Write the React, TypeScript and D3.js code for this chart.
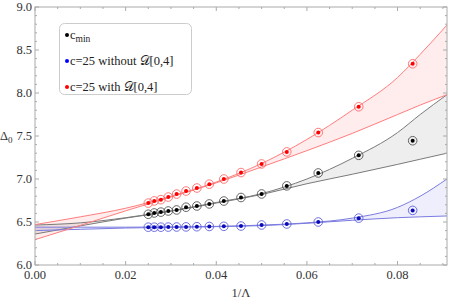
import React, { useEffect, useRef } from 'react';
import * as d3 from 'd3';

// cutoff values, points are plotted at 1/Λ
const lambdas = [40, 38, 36, 34, 32, 30, 28, 26, 24, 22, 20, 18, 16, 14, 12];
const cMin = [6.59, 6.605, 6.615, 6.628, 6.64, 6.672, 6.686, 6.71, 6.744, 6.785, 6.826, 6.92, 7.07, 7.275, 7.445];
const withoutD = [6.44, 6.44, 6.44, 6.441, 6.442, 6.443, 6.445, 6.448, 6.45, 6.453, 6.465, 6.477, 6.5, 6.545, 6.635];
const withD = [6.72, 6.745, 6.76, 6.79, 6.825, 6.86, 6.895, 6.94, 7.0, 7.075, 7.175, 7.315, 7.54, 7.84, 8.34];

// extrapolation bands
const fitX = [0, 0.01, 0.02, 0.03, 0.04, 0.05, 0.06, 0.07, 0.08, 0.085, 0.0909];
const redUpper = [6.47, 6.56, 6.66, 6.8, 6.965, 7.18, 7.46, 7.8, 8.18, 8.45, 8.79];
const redLower = [6.295, 6.46, 6.63, 6.79, 6.955, 7.14, 7.33, 7.53, 7.75, 7.86, 7.98];
const blackUpper = [6.465, 6.49, 6.55, 6.63, 6.727, 6.83, 7.0, 7.24, 7.54, 7.75, 7.98];
const blackLower = [6.36, 6.455, 6.545, 6.625, 6.72, 6.82, 6.945, 7.055, 7.17, 7.23, 7.3];
const blueUpper = [6.44, 6.44, 6.44, 6.442, 6.449, 6.464, 6.49, 6.545, 6.67, 6.8, 7.0];
const blueLower = [6.4, 6.415, 6.43, 6.438, 6.446, 6.458, 6.485, 6.52, 6.55, 6.56, 6.57];

const xTicks = [0, 0.02, 0.04, 0.06, 0.08];
const yTicks = [6.0, 6.5, 7.0, 7.5, 8.0, 8.5, 9.0];

const series = [
  { name: 'black', values: cMin, upper: blackUpper, lower: blackLower, line: '#7a7a7a', band: 'rgba(0,0,0,0.065)', dot: '#000', ring: '#555' },
  { name: 'blue', values: withoutD, upper: blueUpper, lower: blueLower, line: '#7b7be0', band: 'rgba(40,40,220,0.08)', dot: '#0a0ab8', ring: '#6060dd' },
  { name: 'red', values: withD, upper: redUpper, lower: redLower, line: '#ff7d7d', band: 'rgba(255,0,0,0.07)', dot: '#ff0000', ring: '#ff6a6a' },
];

const App = () => {
  const svgRef = useRef(null);

  useEffect(() => {
    const width = 450, height = 301;
    const margin = { top: 7, right: 3, bottom: 36, left: 35 };
    const font = "'Liberation Serif', 'Times New Roman', serif";

    const svg = d3.select(svgRef.current);
    svg.selectAll('*').remove();
    svg.attr('width', width).attr('height', height);

    const x = d3.scaleLinear().domain([0, 1 / 11]).range([margin.left, width - margin.right]);
    const y = d3.scaleLinear().domain([6, 9]).range([height - margin.bottom, margin.top]);

    svg.append('clipPath').attr('id', 'plot-clip')
      .append('rect')
      .attr('x', x(0)).attr('y', y(9))
      .attr('width', x(1 / 11) - x(0)).attr('height', y(6) - y(9));

    const plot = svg.append('g').attr('clip-path', 'url(#plot-clip)');

    series.forEach(s => {
      const rows = fitX.map((fx, i) => ({ fx, lo: s.lower[i], hi: s.upper[i] }));
      const area = d3.area()
        .x(d => x(d.fx)).y0(d => y(d.lo)).y1(d => y(d.hi))
        .curve(d3.curveMonotoneX);
      plot.append('path').datum(rows).attr('d', area).attr('fill', s.band);
    });

    series.forEach(s => {
      const rows = fitX.map((fx, i) => ({ fx, lo: s.lower[i], hi: s.upper[i] }));
      ['lo', 'hi'].forEach(k => {
        const line = d3.line().x(d => x(d.fx)).y(d => y(d[k])).curve(d3.curveMonotoneX);
        plot.append('path').datum(rows).attr('d', line)
          .attr('fill', 'none').attr('stroke', s.line).attr('stroke-width', 1);
      });
    });

    series.forEach(s => {
      const pts = lambdas.map((l, i) => ({ px: 1 / l, v: s.values[i] }));
      const g = plot.append('g');
      g.selectAll('circle.ring').data(pts).join('circle')
        .attr('class', 'ring')
        .attr('cx', d => x(d.px)).attr('cy', d => y(d.v)).attr('r', 4.3)
        .attr('fill', 'none').attr('stroke', s.ring).attr('stroke-width', 0.9);
      g.selectAll('circle.dot').data(pts).join('circle')
        .attr('class', 'dot')
        .attr('cx', d => x(d.px)).attr('cy', d => y(d.v)).attr('r', 2)
        .attr('fill', s.dot);
    });

    // frame
    const frame = svg.append('g');
    frame.append('rect')
      .attr('x', x(0)).attr('y', y(9))
      .attr('width', x(1 / 11) - x(0)).attr('height', y(6) - y(9))
      .attr('fill', 'none').attr('stroke', '#aaa').attr('stroke-width', 1);

    const xMinor = d3.range(0, 0.0909, 0.005);
    const yMinor = d3.range(6, 9.001, 0.1);
    const tickColor = '#aaa';

    xMinor.forEach(v => {
      const major = xTicks.some(t => Math.abs(t - v) < 1e-6);
      const len = major ? 4 : 2;
      frame.append('line').attr('x1', x(v)).attr('x2', x(v)).attr('y1', y(6)).attr('y2', y(6) - len).attr('stroke', tickColor);
      frame.append('line').attr('x1', x(v)).attr('x2', x(v)).attr('y1', y(9)).attr('y2', y(9) + len).attr('stroke', tickColor);
    });
    yMinor.forEach(v => {
      const major = yTicks.some(t => Math.abs(t - v) < 1e-6);
      const len = major ? 4 : 2;
      frame.append('line').attr('y1', y(v)).attr('y2', y(v)).attr('x1', x(0)).attr('x2', x(0) + len).attr('stroke', tickColor);
      frame.append('line').attr('y1', y(v)).attr('y2', y(v)).attr('x1', x(1 / 11)).attr('x2', x(1 / 11) - len).attr('stroke', tickColor);
    });

    frame.selectAll('text.xt').data(xTicks).join('text')
      .attr('class', 'xt')
      .attr('x', d => x(d)).attr('y', y(6) + 14)
      .attr('text-anchor', 'middle')
      .attr('font-family', font).attr('font-size', 12.5).attr('fill', '#333')
      .text(d => d3.format('.2f')(d));

    frame.selectAll('text.yt').data(yTicks).join('text')
      .attr('class', 'yt')
      .attr('x', x(0) - 3).attr('y', d => y(d) + 4)
      .attr('text-anchor', 'end')
      .attr('font-family', font).attr('font-size', 12.5).attr('fill', '#333')
      .text(d => d3.format('.1f')(d));

    svg.append('text')
      .attr('x', (x(0) + x(1 / 11)) / 2).attr('y', 297)
      .attr('text-anchor', 'middle')
      .attr('font-family', font).attr('font-size', 12.5).attr('fill', '#333')
      .text('1/Λ');

    const yl = svg.append('text')
      .attr('x', 0).attr('y', y(7.5) + 4)
      .attr('font-family', font).attr('font-size', 12.5).attr('fill', '#333');
    yl.append('tspan').text('Δ');
    yl.append('tspan').attr('font-size', 9).attr('dy', 3).text('0');

    // legend
    const legend = svg.append('g');
    legend.append('rect')
      .attr('x', 59.5).attr('y', 23.5).attr('width', 132).attr('height', 71)
      .attr('rx', 5).attr('fill', 'white').attr('stroke', '#ccc');

    const entries = [
      { color: '#000', parts: [['c', 0], ['min', 1]] },
      { color: '#0000ff', parts: [['c=25 without 𝒟[0,4]', 0]] },
      { color: '#ff0000', parts: [['c=25 with 𝒟[0,4]', 0]] },
    ];
    entries.forEach((e, i) => {
      const cy = 35 + i * 26;
      legend.append('circle').attr('cx', 67).attr('cy', cy).attr('r', 2).attr('fill', e.color);
      const t = legend.append('text')
        .attr('x', 70).attr('y', cy + 4)
        .attr('font-family', font).attr('font-size', 12.5).attr('fill', '#222');
      e.parts.forEach(([txt, sub]) => {
        const sp = t.append('tspan').text(txt);
        if (sub) sp.attr('font-size', 9.5).attr('dy', 3);
      });
    });
  }, []);

  return <svg ref={svgRef} style={{ position: 'absolute', left: 0, top: 0 }}></svg>;
};

export default App;
